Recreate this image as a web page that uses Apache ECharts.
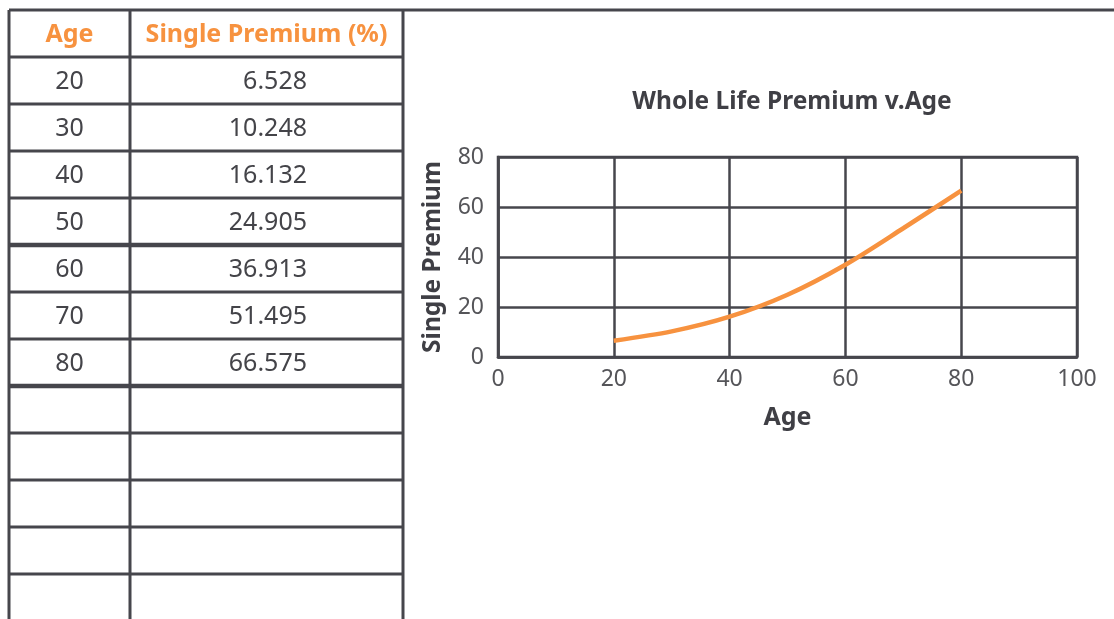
<!DOCTYPE html>
<html>
<head>
<meta charset="utf-8">
<title>Whole Life Premium v.Age</title>
<script src="https://cdn.jsdelivr.net/npm/echarts@6/dist/echarts.min.js"></script>
<style>
  html, body { margin: 0; padding: 0; background: #ffffff; }
  #chart { width: 1114px; height: 619px; }
</style>
</head>
<body>
<div id="chart"></div>
<script>
// Whole life single premium (% of face amount) by age of issue
const ages = [20, 30, 40, 50, 60, 70, 80];
const premiums = [6.528, 10.248, 16.132, 24.905, 36.913, 51.495, 66.575];
const tableHeaders = ['Age', 'Single Premium (%)'];
const xTicks = { min: 0, max: 100, interval: 20 };
const yTicks = { min: 0, max: 80, interval: 20 };

const INK = '#46464c';
const TEXT = '#444449';
const ORANGE = '#f7923f';
const FONT = '"Noto Sans", "Open Sans", sans-serif';

// table geometry
const colX = [9, 130, 403];
const tableTop = 10;
const headerBottom = 57;
const rowH = 47;
const emptyRows = 5;
const thickAfter = [4, 7]; // row counts after which a heavier rule is drawn

const graphics = [];
function hLine(y, x1, x2, w) {
  graphics.push({ type: 'line', shape: { x1: x1, y1: y, x2: x2, y2: y },
    style: { stroke: INK, lineWidth: w } });
}
function vLine(x, y1, y2, w) {
  graphics.push({ type: 'line', shape: { x1: x, y1: y1, x2: x, y2: y2 },
    style: { stroke: INK, lineWidth: w } });
}
function label(text, x, y, opts) {
  graphics.push({ type: 'text', x: x, y: y,
    style: Object.assign({ text: text, fill: TEXT, fontFamily: FONT, fontSize: 25,
      textAlign: 'center', textVerticalAlign: 'middle' }, opts || {}) });
}

// outer rules
hLine(tableTop, colX[0], 1114, 3);
colX.forEach(x => vLine(x, tableTop, 619, 3));
hLine(headerBottom, colX[0], colX[2], 3);

// header
label(tableHeaders[0], (colX[0] + colX[1]) / 2, (tableTop + headerBottom) / 2 + 1.5,
  { fill: ORANGE, fontWeight: 'bold', fontSize: 25 });
label(tableHeaders[1], (colX[1] + colX[2]) / 2, (tableTop + headerBottom) / 2 + 1.5,
  { fill: ORANGE, fontWeight: 'bold', fontSize: 25 });

// data rows plus blank rows
const totalRows = ages.length + emptyRows;
for (let i = 0; i < totalRows; i++) {
  const yTop = headerBottom + i * rowH;
  const yBot = yTop + rowH;
  const heavy = thickAfter.indexOf(i + 1) >= 0;
  hLine(yBot, colX[0], colX[2], heavy ? 4.5 : 3);
  if (i < ages.length) {
    const yMid = (yTop + yBot) / 2 + 1.5;
    label(String(ages[i]), (colX[0] + colX[1]) / 2, yMid);
    label(premiums[i].toFixed(3), 307, yMid, { textAlign: 'right' });
  }
}

const chart = echarts.init(document.getElementById('chart'), null, { renderer: 'canvas' });
chart.setOption({
  animation: false,
  backgroundColor: '#ffffff',
  title: {
    text: 'Whole Life Premium v.Age',
    left: 787,
    top: 85,
    textAlign: 'center',
    textStyle: { color: '#3f3f45', fontFamily: FONT, fontSize: 24.5, fontWeight: 'bold' }
  },
  grid: {
    left: 498, top: 157, right: 37, bottom: 262,
    show: true, borderColor: INK, borderWidth: 2.5, backgroundColor: 'transparent'
  },
  xAxis: {
    type: 'value',
    min: xTicks.min, max: xTicks.max, interval: xTicks.interval,
    name: 'Age', nameLocation: 'middle', nameGap: 48,
    nameTextStyle: { color: '#3f3f45', fontFamily: FONT, fontSize: 25, fontWeight: 'bold' },
    axisLine: { show: true, lineStyle: { color: INK, width: 2.5 } },
    axisTick: { show: false },
    axisLabel: { color: '#555559', fontFamily: FONT, fontSize: 23, margin: 11 },
    splitLine: { show: true, lineStyle: { color: INK, width: 2.5 } }
  },
  yAxis: {
    type: 'value',
    min: yTicks.min, max: yTicks.max, interval: yTicks.interval,
    name: 'Single Premium', nameLocation: 'middle', nameGap: 52,
    nameTextStyle: { color: '#3f3f45', fontFamily: FONT, fontSize: 24.5, fontWeight: 'bold' },
    axisLine: { show: true, lineStyle: { color: INK, width: 2.5 } },
    axisTick: { show: false },
    axisLabel: { color: '#555559', fontFamily: FONT, fontSize: 23, margin: 14 },
    splitLine: { show: true, lineStyle: { color: INK, width: 2.5 } }
  },
  series: [{
    type: 'line',
    data: ages.map((a, i) => [a, premiums[i]]),
    smooth: 0.3,
    showSymbol: false,
    lineStyle: { color: ORANGE, width: 4.5 },
    z: 5
  }],
  graphic: graphics
});
</script>
</body>
</html>
